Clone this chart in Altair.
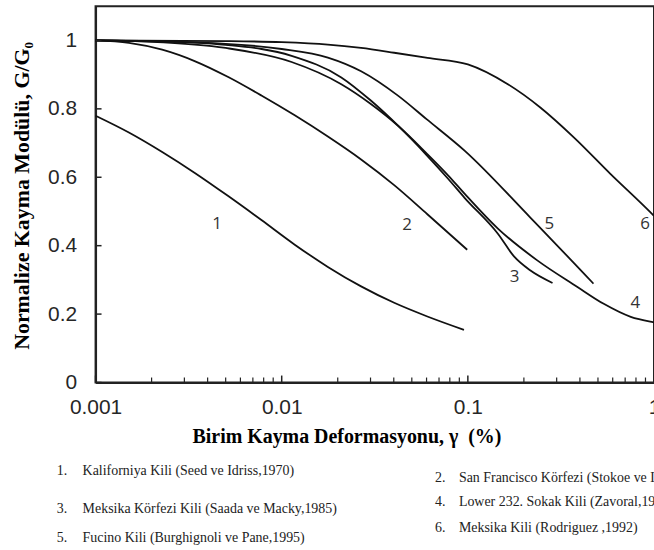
import altair as alt
import pandas as pd

# Shear strain (%) and normalized shear modulus G/G0 for each clay
gamma_1 = [0.001, 0.00151, 0.00228, 0.00343, 0.00516, 0.00778, 0.01175, 0.0177, 0.0267, 0.0402, 0.0606, 0.0953]
ratio_1 = [0.78, 0.731, 0.674, 0.612, 0.545, 0.475, 0.403, 0.338, 0.281, 0.233, 0.193, 0.154]

gamma_2 = [0.001, 0.00151, 0.00228, 0.00343, 0.00516, 0.00778, 0.01175, 0.0177, 0.0267, 0.0402, 0.0606, 0.0992]
ratio_2 = [1.0, 0.993, 0.973, 0.939, 0.893, 0.839, 0.781, 0.719, 0.652, 0.577, 0.492, 0.388]

gamma_3 = [0.001, 0.002, 0.005, 0.0113, 0.0209, 0.03, 0.0423, 0.06, 0.0785, 0.096, 0.145, 0.178, 0.216, 0.285]
ratio_3 = [1.0, 0.998, 0.987, 0.955, 0.892, 0.825, 0.75, 0.665, 0.595, 0.54, 0.435, 0.367, 0.328, 0.291]

gamma_4 = [0.001, 0.002, 0.005, 0.0113, 0.0209, 0.03, 0.0423, 0.06, 0.0785, 0.096, 0.145, 0.236, 0.386, 0.537, 0.75, 0.955, 1.0]
ratio_4 = [1.0, 0.996, 0.978, 0.937, 0.872, 0.815, 0.75, 0.67, 0.605, 0.552, 0.45, 0.357, 0.28, 0.23, 0.192, 0.178, 0.176]

gamma_5 = [0.001, 0.005, 0.01, 0.0177, 0.0267, 0.0423, 0.06, 0.096, 0.216, 0.473]
ratio_5 = [1.0, 0.99, 0.975, 0.95, 0.91, 0.838, 0.77, 0.678, 0.483, 0.289]

gamma_6 = [0.001, 0.005, 0.01, 0.0177, 0.0267, 0.0402, 0.0606, 0.1, 0.164, 0.245, 0.372, 0.583, 0.955, 1.0]
ratio_6 = [1.0, 0.998, 0.995, 0.988, 0.978, 0.964, 0.949, 0.93, 0.872, 0.804, 0.716, 0.61, 0.498, 0.487]

# Curve numbers written next to the lines
curve_ids = ["1", "2", "3", "4", "5", "6"]
curve_label_gamma = [0.00449, 0.0472, 0.178, 0.794, 0.274, 0.895]
curve_label_ratio = [0.462, 0.459, 0.309, 0.231, 0.464, 0.462]

# Axis ticks
y_ticks = [0, 0.2, 0.4, 0.6, 0.8, 1.0]
x_major = [0.001, 0.01, 0.1, 1]
x_minor = [m * d for d in (0.001, 0.01, 0.1) for m in range(2, 10)]

# Key below the chart
key_numbers = ["1.", "2.", "3.", "4.", "5.", "6."]
key_texts = [
    "Kaliforniya Kili (Seed ve Idriss,1970)",
    "San Francisco Körfezi (Stokoe ve Lodde,1978)",
    "Meksika Körfezi Kili (Saada ve Macky,1985)",
    "Lower 232. Sokak Kili (Zavoral,1990)",
    "Fucino Kili (Burghignoli ve Pane,1995)",
    "Meksika Kili (Rodriguez ,1992)",
]

W, H = 561, 378

rows = []
for sid, gs, rs in zip(curve_ids, [gamma_1, gamma_2, gamma_3, gamma_4, gamma_5, gamma_6],
                       [ratio_1, ratio_2, ratio_3, ratio_4, ratio_5, ratio_6]):
    for g, r in zip(gs, rs):
        rows.append({"curve": sid, "gamma": g, "ratio": r})
curves_df = pd.DataFrame(rows)

labels_df = pd.DataFrame({"id": curve_ids, "gamma": curve_label_gamma, "ratio": curve_label_ratio})

xs = alt.Scale(type="log", domain=[0.001, 1])
ys = alt.Scale(domain=[0, 1.1])

x_axis = alt.Axis(values=x_major, format="~g", ticks=False, grid=False,
                  domainColor="#222222", domainWidth=2,
                  labelFont="Liberation Sans", labelFontSize=21, labelColor="#262626",
                  labelPadding=14, labelFlush=False,
                  title="Birim Kayma Deformasyonu, γ\u00a0\u00a0(%)",
                  titleFont="Liberation Serif", titleFontSize=20, titleFontWeight="bold",
                  titleColor="#000000", titleX=252, titleY=60, titleAlign="center",
                  titleBaseline="alphabetic")
y_axis = alt.Axis(values=y_ticks, format="~g", ticks=False, grid=False,
                  domainColor="#222222", domainWidth=2,
                  labelFont="Liberation Sans", labelFontSize=21, labelColor="#262626",
                  labelPadding=19, labelFlush=False,
                  title="Normalize Kayma Modülü, G/G₀",
                  titleFont="Liberation Serif", titleFontSize=22, titleFontWeight="bold",
                  titleColor="#000000", titleX=-74, titleY=190, titleAngle=270,
                  titleAlign="center", titleBaseline="middle")

lines = alt.Chart(curves_df).mark_line(color="#111111", strokeWidth=1.8, interpolate="monotone").encode(
    x=alt.X("gamma:Q", scale=xs, axis=x_axis),
    y=alt.Y("ratio:Q", scale=ys, axis=y_axis),
    detail="curve:N",
)

curve_text = alt.Chart(labels_df).mark_text(font="Open Sans", fontSize=17, color="#333333").encode(
    x=alt.X("gamma:Q", scale=xs, axis=x_axis),
    y=alt.Y("ratio:Q", scale=ys, axis=y_axis),
    text="id:N",
)

ytick_marks = alt.Chart(pd.DataFrame({"ratio": y_ticks})).mark_rule(color="#222222", strokeWidth=1.5).encode(
    y=alt.Y("ratio:Q", scale=ys, axis=y_axis), x=alt.value(0), x2=alt.value(6))

xmaj_marks = alt.Chart(pd.DataFrame({"gamma": x_major})).mark_rule(color="#222222", strokeWidth=1.5).encode(
    x=alt.X("gamma:Q", scale=xs, axis=x_axis), y=alt.value(H), y2=alt.value(H - 7))

xmin_marks = alt.Chart(pd.DataFrame({"gamma": x_minor})).mark_rule(color="#222222", strokeWidth=1.2).encode(
    x=alt.X("gamma:Q", scale=xs, axis=x_axis), y=alt.value(H), y2=alt.value(H - 5))

# Key layout: two columns below the plot (pixel offsets from the plot's top-left corner)
key_num_x = [-39, 341, -39, 341, -39, 341]
key_txt_x = [-13, 365, -13, 365, -13, 365]
key_y = [467, 474, 505, 498, 534, 524]

key_layers = []
for num, txt, nx, tx, ky in zip(key_numbers, key_texts, key_num_x, key_txt_x, key_y):
    base = alt.Chart(pd.DataFrame({"n": [num], "t": [txt]}))
    key_layers.append(base.mark_text(font="Liberation Serif", fontSize=14, color="#222222",
                                     align="left", baseline="middle").encode(
        x=alt.value(nx), y=alt.value(ky), text="n:N"))
    key_layers.append(base.mark_text(font="Liberation Serif", fontSize=14, color="#222222",
                                     align="left", baseline="middle").encode(
        x=alt.value(tx), y=alt.value(ky), text="t:N"))

chart = alt.layer(lines, curve_text, ytick_marks, xmaj_marks, xmin_marks, *key_layers).properties(
    width=W, height=H,
    padding={"left": 96, "top": 5, "right": 0, "bottom": 167},
    autosize="none",
    background="white",
).configure_view(stroke="#222222", strokeWidth=2)

chart.save("out.html", embed_options={"renderer": "svg", "actions": False})
